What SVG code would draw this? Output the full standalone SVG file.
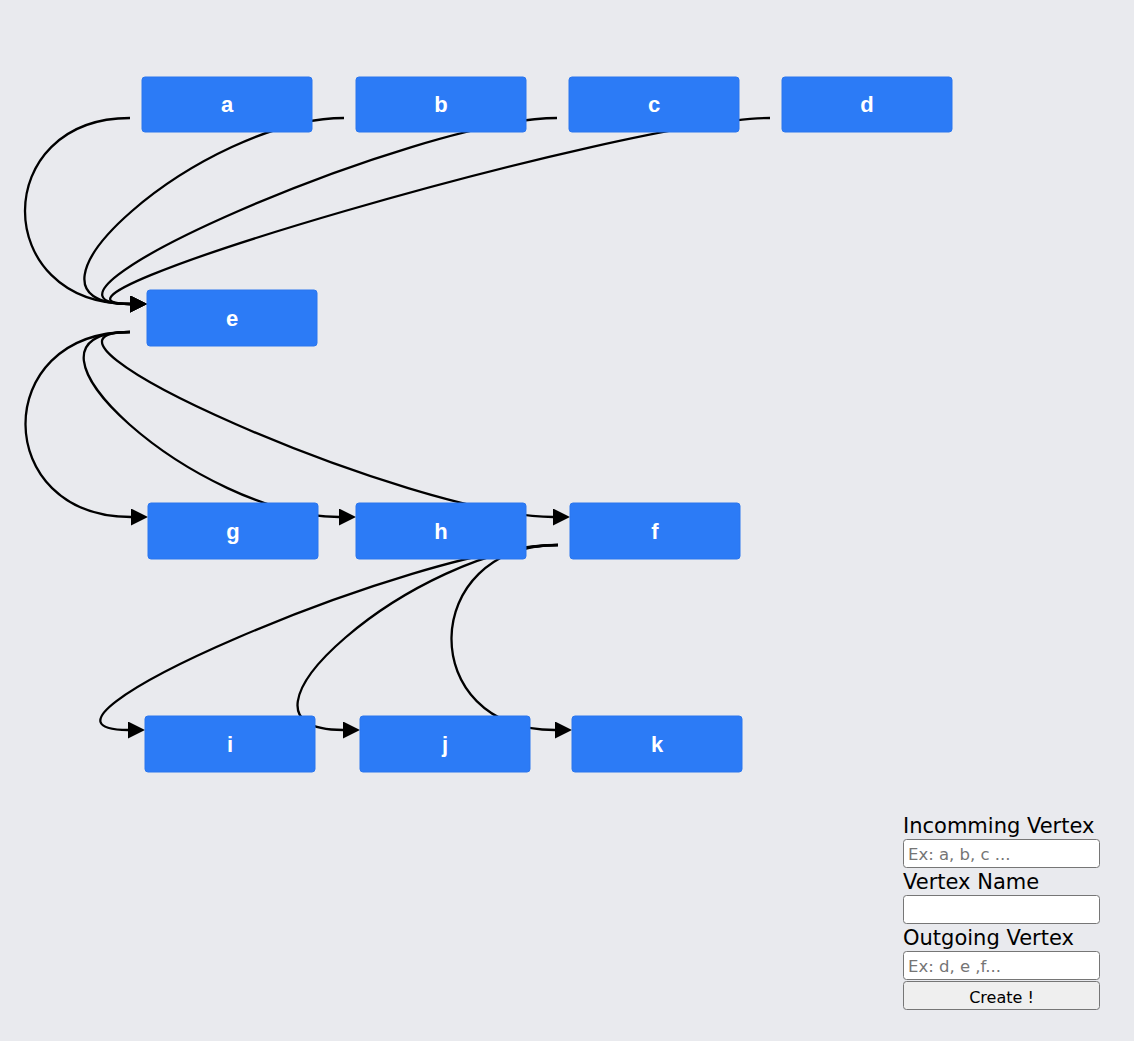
<svg xmlns="http://www.w3.org/2000/svg" width="1134" height="1041" viewBox="0 0 1134 1041">
<style>
.bg{fill:#E9EAEE}
.node rect{fill:#2C7BF6;stroke:#2A76EE;stroke-width:1}
.node text{fill:#FFFFFF;font-family:"Liberation Sans",Arial,sans-serif;font-weight:bold;font-size:22px;text-anchor:middle}
.edge{fill:none;stroke:#000;stroke-width:2.3;marker-end:url(#arrow)}
.lbl{font-family:"DejaVu Sans",sans-serif;font-size:21px;fill:#000}
.inp{fill:#FFFFFF;stroke:#767676;stroke-width:1}
.ph{font-family:"DejaVu Sans",sans-serif;font-size:16.5px;fill:#757575}
.btn{fill:#EFEFEF;stroke:#767676;stroke-width:1}
.btxt{font-family:"DejaVu Sans",sans-serif;font-size:16px;fill:#000;text-anchor:middle}
</style>
<defs>
<marker id="arrow" markerUnits="userSpaceOnUse" viewBox="0 0 17 17" markerWidth="17" markerHeight="17" refX="0" refY="8.5" orient="auto">
<path d="M0,0 L17,8.5 L0,17 z" fill="#000"/>
</marker>
</defs>
<rect class="bg" x="0" y="0" width="1134" height="1041"/>
<g id="connectors">
<path class="edge" d="M130,118 C-10,118 -10,304 130,304"/>
<path class="edge" d="M344,118 C204,118 -10,304 130,304"/>
<path class="edge" d="M557,118 C417,118 -10,304 130,304"/>
<path class="edge" d="M770,118 C630,118 -10,304 130,304"/>
<path class="edge" d="M130,332 C-10,332 -9,517 131,517"/>
<path class="edge" d="M130,332 C-10,332 199,517 339,517"/>
<path class="edge" d="M130,332 C-10,332 413,517 553,517"/>
<path class="edge" d="M558,545 C418,545 -12,730 128,730"/>
<path class="edge" d="M558,545 C418,545 203,730 343,730"/>
<path class="edge" d="M558,545 C418,545 415,730 555,730"/>
</g>
<g id="node-a" class="node"><rect x="142" y="77" width="170" height="55" rx="3"/><text x="227" y="112">a</text></g>
<g id="node-b" class="node"><rect x="356" y="77" width="170" height="55" rx="3"/><text x="441" y="112">b</text></g>
<g id="node-c" class="node"><rect x="569" y="77" width="170" height="55" rx="3"/><text x="654" y="112">c</text></g>
<g id="node-d" class="node"><rect x="782" y="77" width="170" height="55" rx="3"/><text x="867" y="112">d</text></g>
<g id="node-e" class="node"><rect x="147" y="290" width="170" height="56" rx="3"/><text x="232" y="326">e</text></g>
<g id="node-g" class="node"><rect x="148" y="503" width="170" height="56" rx="3"/><text x="233" y="539">g</text></g>
<g id="node-h" class="node"><rect x="356" y="503" width="170" height="56" rx="3"/><text x="441" y="539">h</text></g>
<g id="node-f" class="node"><rect x="570" y="503" width="170" height="56" rx="3"/><text x="655" y="539">f</text></g>
<g id="node-i" class="node"><rect x="145" y="716" width="170" height="56" rx="3"/><text x="230" y="752">i</text></g>
<g id="node-j" class="node"><rect x="360" y="716" width="170" height="56" rx="3"/><text x="445" y="752">j</text></g>
<g id="node-k" class="node"><rect x="572" y="716" width="170" height="56" rx="3"/><text x="657" y="752">k</text></g>
<g id="form">
<text class="lbl" x="903" y="833">Incomming Vertex</text>
<rect class="inp" x="903.5" y="839.5" width="196" height="28" rx="3"/>
<text class="ph" x="908" y="860">Ex: a, b, c ...</text>
<text class="lbl" x="903" y="889">Vertex Name</text>
<rect class="inp" x="903.5" y="895.5" width="196" height="28" rx="3"/>
<text class="lbl" x="903" y="945">Outgoing Vertex</text>
<rect class="inp" x="903.5" y="951.5" width="196" height="28" rx="3"/>
<text class="ph" x="908" y="972">Ex: d, e ,f...</text>
<rect class="btn" x="903.5" y="981.5" width="196" height="28" rx="3"/>
<text class="btxt" x="1001.5" y="1003">Create !</text>
</g>
</svg>
